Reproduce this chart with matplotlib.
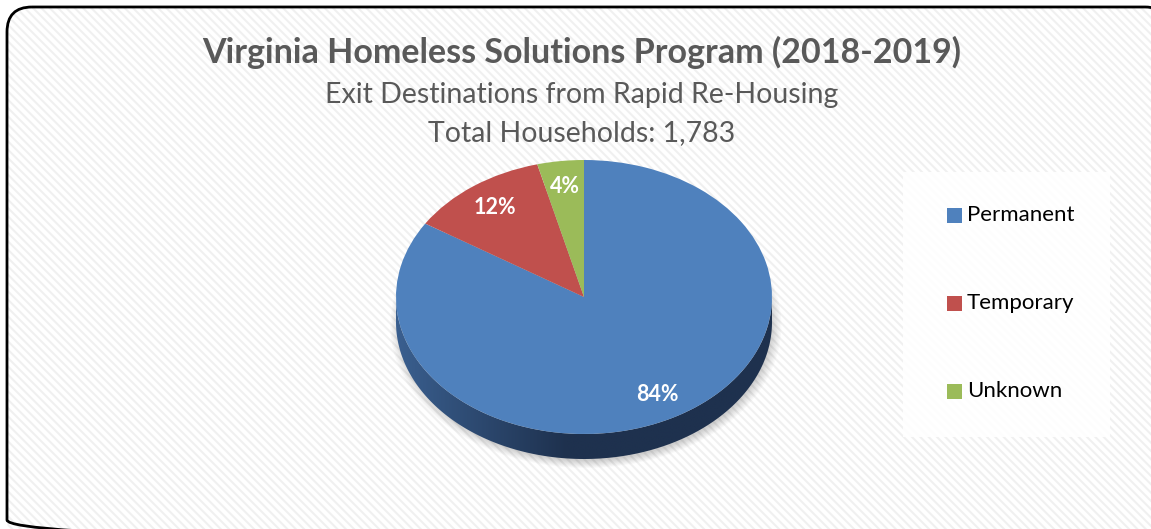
import matplotlib
matplotlib.use("Agg")
import matplotlib.pyplot as plt
import numpy as np
from matplotlib.patches import FancyBboxPatch, Rectangle, Polygon, Ellipse

# chart data
categories = ["Permanent", "Temporary", "Unknown"]
shares = [84, 12, 4]
colors = ["#4F81BD", "#C0504D", "#9BBB59"]
title = "Virginia Homeless Solutions Program (2018-2019)"
subtitle = "Exit Destinations from Rapid Re-Housing"
total_line = "Total Households: 1,783"

W, H = 1151, 529
plt.rcParams["font.family"] = ["Lato", "DejaVu Sans"]
plt.rcParams["hatch.linewidth"] = 1.5

fig = plt.figure(figsize=(W / 100, H / 100), dpi=100)
fig.patch.set_facecolor("white")

# background axes in pixel units (y grows downwards)
bg = fig.add_axes([0, 0, 1, 1], zorder=-1)
bg.set_xlim(0, W)
bg.set_ylim(H, 0)
bg.axis("off")
frame = dict(boxstyle="round,pad=0,rounding_size=25")
bg.add_patch(FancyBboxPatch((7, 7), 1163, 538, **frame,
                            facecolor="white", edgecolor="#f0f0f0",
                            hatch="\\\\\\\\", linewidth=0, zorder=0))
bg.add_patch(FancyBboxPatch((7, 7), 1163, 538, **frame,
                            facecolor="none", edgecolor="black",
                            linewidth=2, zorder=5))
# legend panel
bg.add_patch(Rectangle((903, 172), 207, 265, facecolor="white",
                       edgecolor="none", alpha=0.9, zorder=1))
for i, (name, col) in enumerate(zip(categories, colors)):
    yy = 215 + i * 88
    bg.add_patch(Rectangle((947, yy - 7), 15, 15, facecolor=col,
                           edgecolor="none", zorder=2))
    bg.text(967, yy, name, ha="left", va="center", fontsize=16,
            color="black", zorder=3)

# titles
bg.text(582, 52, title, ha="center", va="center",
        fontsize=24.5, fontweight="bold", color="#595959")
bg.text(582, 95, subtitle, ha="center", va="center",
        fontsize=20.5, color="#595959")
bg.text(582, 133, total_line, ha="center", va="center",
        fontsize=20.5, color="#595959")

# pie axes: center (584, 297) px, radii 188 x 137 px
cx, cy, rx, ry = 584, 297, 188, 137
ax = fig.add_axes([0, 0, 1, 1], zorder=1)
ax.axis("off")
ax.patch.set_alpha(0)
depth = 25 / ry

# soft shadow under the disc
for i in range(8):
    ax.add_patch(Ellipse((0.01, -depth - 0.025), 2.08 - i * 0.015, 2.08 - i * 0.015,
                         facecolor="#000000", alpha=0.025, edgecolor="none", zorder=1))

# side band with gradient
t = np.linspace(np.pi, 2 * np.pi, 200)
top = np.column_stack([np.cos(t), np.sin(t)])
bot = np.column_stack([np.cos(t[::-1]), np.sin(t[::-1]) - depth])
side = Polygon(np.vstack([top, bot]), closed=True, facecolor="none", edgecolor="none")
ax.add_patch(side)
grad_x = np.linspace(0, 1, 256)
shade = np.clip(grad_x * 2.2, 0, 1)
c0 = np.array([0x3a, 0x5f, 0x8f]) / 255
c1 = np.array([0x1e, 0x31, 0x4e]) / 255
img = c0[None, :] * (1 - shade[:, None]) + c1[None, :] * shade[:, None]
im = ax.imshow(img[None, :, :], extent=(-1, 1, -1 - depth, 0.01),
               aspect="auto", zorder=2, interpolation="bilinear")
im.set_clip_path(side)

wedges, texts, autotexts = ax.pie(
    shares, colors=colors, startangle=90, counterclock=False,
    autopct="%.0f%%", pctdistance=0.81,
    textprops=dict(color="white", fontsize=15.5, fontweight="bold"),
    wedgeprops=dict(linewidth=0))
for w in wedges:
    w.set_zorder(3)
for a in autotexts:
    a.set_zorder(4)
ax.set_aspect("auto")
ax.set_xlim(-cx / rx, (W - cx) / rx)
ax.set_ylim(-(H - cy) / ry, cy / ry)

fig.savefig("out.png", dpi=100)
